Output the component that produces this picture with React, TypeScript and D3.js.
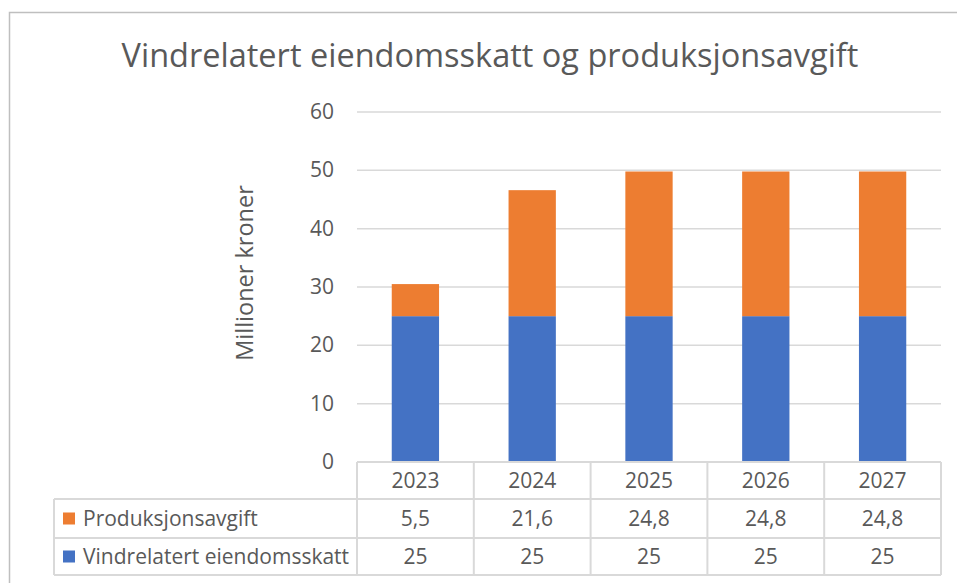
import { useEffect, useRef } from "react";
import * as d3 from "d3";

const categories = ["2023", "2024", "2025", "2026", "2027"];
const eiendomsskatt = [25, 25, 25, 25, 25];
const produksjonsavgift = [5.5, 21.6, 24.8, 24.8, 24.8];
const yTicks = [0, 10, 20, 30, 40, 50, 60];

const series = [
  { name: "Produksjonsavgift", values: produksjonsavgift, color: "#ED7D31" },
  { name: "Vindrelatert eiendomsskatt", values: eiendomsskatt, color: "#4472C4" },
];

const App = () => {
  const svgRef = useRef<SVGSVGElement>(null);

  useEffect(() => {
    const svg = d3.select(svgRef.current);
    svg.selectAll("*").remove();

    const W = 957;
    const H = 583;
    const font = "'Open Sans', Lato, sans-serif";
    const textColor = "#595959";
    const lineColor = "#D9D9D9";
    const fs = 21;

    // plot area
    const left = 357;
    const right = 941;
    const top = 112;
    const bottom = 462;
    const rowH = [37, 39, 37]; // header row + 2 series rows
    const legendLeft = 54;

    svg.attr("width", W).attr("height", H);
    svg.append("rect").attr("width", W).attr("height", H).attr("fill", "#fff");

    // chart border (right and bottom edges fall outside the picture)
    svg
      .append("rect")
      .attr("x", 9.5)
      .attr("y", 12.5)
      .attr("width", 1000)
      .attr("height", 620)
      .attr("fill", "none")
      .attr("stroke", "#BFBFBF")
      .attr("stroke-width", 1.5);

    // title
    svg
      .append("text")
      .attr("x", 490)
      .attr("y", 67)
      .attr("text-anchor", "middle")
      .attr("font-family", font)
      .attr("font-size", 32.5)
      .attr("fill", textColor)
      .text("Vindrelatert eiendomsskatt og produksjonsavgift");

    const x = d3.scaleBand().domain(categories).range([left, right]);
    const y = d3.scaleLinear().domain([0, 60]).range([bottom, top]);
    const barW = x.bandwidth() * 0.405;

    // gridlines
    svg
      .append("g")
      .selectAll("line")
      .data(yTicks.filter((d) => d > 0))
      .enter()
      .append("line")
      .attr("x1", left)
      .attr("x2", right)
      .attr("y1", (d) => y(d))
      .attr("y2", (d) => y(d))
      .attr("stroke", lineColor)
      .attr("stroke-width", 1.5);

    // y tick labels
    svg
      .append("g")
      .selectAll("text")
      .data(yTicks)
      .enter()
      .append("text")
      .attr("x", 334)
      .attr("y", (d) => y(d) + 7)
      .attr("text-anchor", "end")
      .attr("font-family", font)
      .attr("font-size", fs)
      .attr("fill", textColor)
      .text((d) => d);

    // y axis title
    svg
      .append("text")
      .attr("transform", `translate(253, 273) rotate(-90)`)
      .attr("text-anchor", "middle")
      .attr("font-family", font)
      .attr("font-size", 23.5)
      .attr("fill", textColor)
      .text("Millioner kroner");

    // stacked bars
    const rows = categories.map((c, i) => ({
      cat: c,
      eiendom: eiendomsskatt[i],
      produksjon: produksjonsavgift[i],
    }));
    const stack = d3.stack<any>().keys(["eiendom", "produksjon"]);
    const stacked = stack(rows);
    const colors: Record<string, string> = { eiendom: "#4472C4", produksjon: "#ED7D31" };

    svg
      .append("g")
      .selectAll("g")
      .data(stacked)
      .enter()
      .append("g")
      .attr("fill", (d) => colors[d.key])
      .selectAll("rect")
      .data((d) => d)
      .enter()
      .append("rect")
      .attr("x", (d) => x(d.data.cat)! + (x.bandwidth() - barW) / 2)
      .attr("y", (d) => y(d[1]))
      .attr("width", barW)
      .attr("height", (d) => y(d[0]) - y(d[1]));

    // data table
    const fmt = d3.formatLocale({ decimal: ",", thousands: " ", grouping: [3], currency: ["", " kr"] }).format("~g");
    const rowY = [bottom, bottom + rowH[0], bottom + rowH[0] + rowH[1], bottom + rowH[0] + rowH[1] + rowH[2]];
    const table = svg.append("g");

    // horizontal lines
    table
      .append("line")
      .attr("x1", left)
      .attr("x2", right)
      .attr("y1", rowY[0])
      .attr("y2", rowY[0])
      .attr("stroke", lineColor)
      .attr("stroke-width", 2);
    rowY.slice(1).forEach((ry) => {
      table
        .append("line")
        .attr("x1", legendLeft)
        .attr("x2", right)
        .attr("y1", ry)
        .attr("y2", ry)
        .attr("stroke", lineColor)
        .attr("stroke-width", 2);
    });

    // vertical lines
    const colEdges = categories.map((c) => x(c)!).concat([right]);
    colEdges.forEach((cx) => {
      table
        .append("line")
        .attr("x1", cx)
        .attr("x2", cx)
        .attr("y1", rowY[0])
        .attr("y2", rowY[3])
        .attr("stroke", lineColor)
        .attr("stroke-width", 2);
    });
    table
      .append("line")
      .attr("x1", legendLeft)
      .attr("x2", legendLeft)
      .attr("y1", rowY[1])
      .attr("y2", rowY[3])
      .attr("stroke", lineColor)
      .attr("stroke-width", 2);

    // header labels
    table
      .selectAll("text.cat")
      .data(categories)
      .enter()
      .append("text")
      .attr("class", "cat")
      .attr("x", (d) => x(d)! + x.bandwidth() / 2)
      .attr("y", rowY[0] + 26)
      .attr("text-anchor", "middle")
      .attr("font-family", font)
      .attr("font-size", fs)
      .attr("fill", textColor)
      .text((d) => d);

    // series rows
    series.forEach((s, si) => {
      const ry = rowY[si + 1];
      const h = rowH[si + 1];
      table
        .append("rect")
        .attr("x", 63)
        .attr("y", ry + h / 2 - 6)
        .attr("width", 12)
        .attr("height", 12)
        .attr("fill", s.color);
      table
        .append("text")
        .attr("x", 83)
        .attr("y", ry + h / 2 + 7)
        .attr("font-family", font)
        .attr("font-size", fs)
        .attr("fill", textColor)
        .text(s.name);
      table
        .selectAll(`text.v${si}`)
        .data(s.values)
        .enter()
        .append("text")
        .attr("class", `v${si}`)
        .attr("x", (d, i) => x(categories[i])! + x.bandwidth() / 2)
        .attr("y", ry + h / 2 + 7)
        .attr("text-anchor", "middle")
        .attr("font-family", font)
        .attr("font-size", fs)
        .attr("fill", textColor)
        .text((d) => fmt(d));
    });
  }, []);

  return (
    <svg ref={svgRef} style={{ position: "absolute", left: 0, top: 0, display: "block" }}></svg>
  );
};

export default App;
